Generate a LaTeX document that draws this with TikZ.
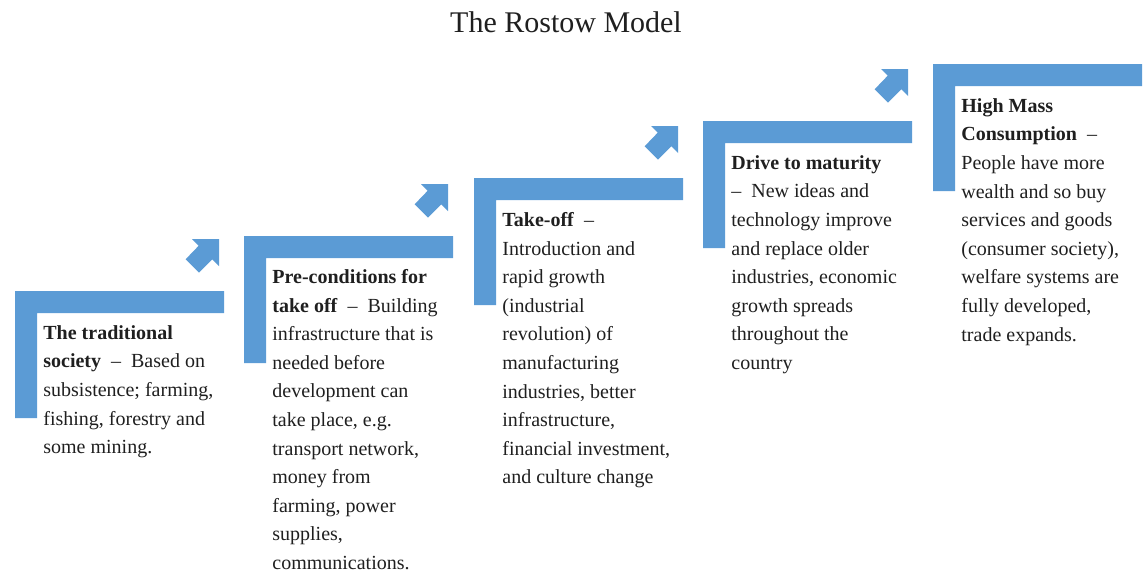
\documentclass[tikz,border=0pt]{standalone}
\usepackage{fontspec}
\setmainfont{Liberation Serif}
\usepackage{tikz}
\definecolor{stepblue}{HTML}{5B9BD5}

\begin{document}
\begin{tikzpicture}[x=0.5pt, y=-0.5pt,
  txt/.style = {anchor=north west, align=left, inner sep=0pt, text=black!88, font=\fontsize{10}{14.3}\selectfont},
  stair/.pic = {\fill[stepblue] (0,0) -- (209,0) -- (209,22) -- (22,22) -- (22,127) -- (0,127) -- cycle;},
  uparrow/.pic = {\fill[stepblue] (0,0) -- (0,27) -- (-6.7,20.3) -- (-20,33.6) -- (-33.4,20.3) -- (-20.3,6.7) -- (-27,0) -- cycle;}
]
\useasboundingbox (0,0) rectangle (1147,574);

% Title
\node[font=\fontsize{15}{18}\selectfont, text=black!88] at (566,22) (title) {The Rostow Model};

% Stairs, one per stage
\pic at (15,291) {stair};
\pic at (244,236) {stair};
\pic at (474,178) {stair};
\pic at (703,121) {stair};
\pic at (933,64) {stair};

% Arrows between the stairs
\pic at (219,239) {uparrow};
\pic at (448,184) {uparrow};
\pic at (678,126) {uparrow};
\pic at (908,69) {uparrow};

% Stage descriptions
\node[txt] at (43,325) (trad) {\textbf{The traditional}\\\textbf{society}~~–~~Based on\\subsistence; farming,\\fishing, forestry and\\some mining.};
\node[txt] at (272,269) (precond) {\textbf{Pre-conditions for}\\\textbf{take off}~~–~~Building\\infrastructure that is\\needed before\\development can\\take place, e.g.\\transport network,\\money from\\farming, power\\supplies,\\communications.};
\node[txt] at (502,212) (takeoff) {\textbf{Take-off}~~–\\Introduction and\\rapid growth\\(industrial\\revolution) of\\manufacturing\\industries, better\\infrastructure,\\financial investment,\\and culture change};
\node[txt] at (731,155) (maturity) {\textbf{Drive to maturity}\\–~~New ideas and\\technology improve\\and replace older\\industries, economic\\growth spreads\\throughout the\\country};
\node[txt] at (961,98) (massc) {\textbf{High Mass}\\\textbf{Consumption}~~–\\People have more\\wealth and so buy\\services and goods\\(consumer society),\\welfare systems are\\fully developed,\\trade expands.};

\end{tikzpicture}
\end{document}
